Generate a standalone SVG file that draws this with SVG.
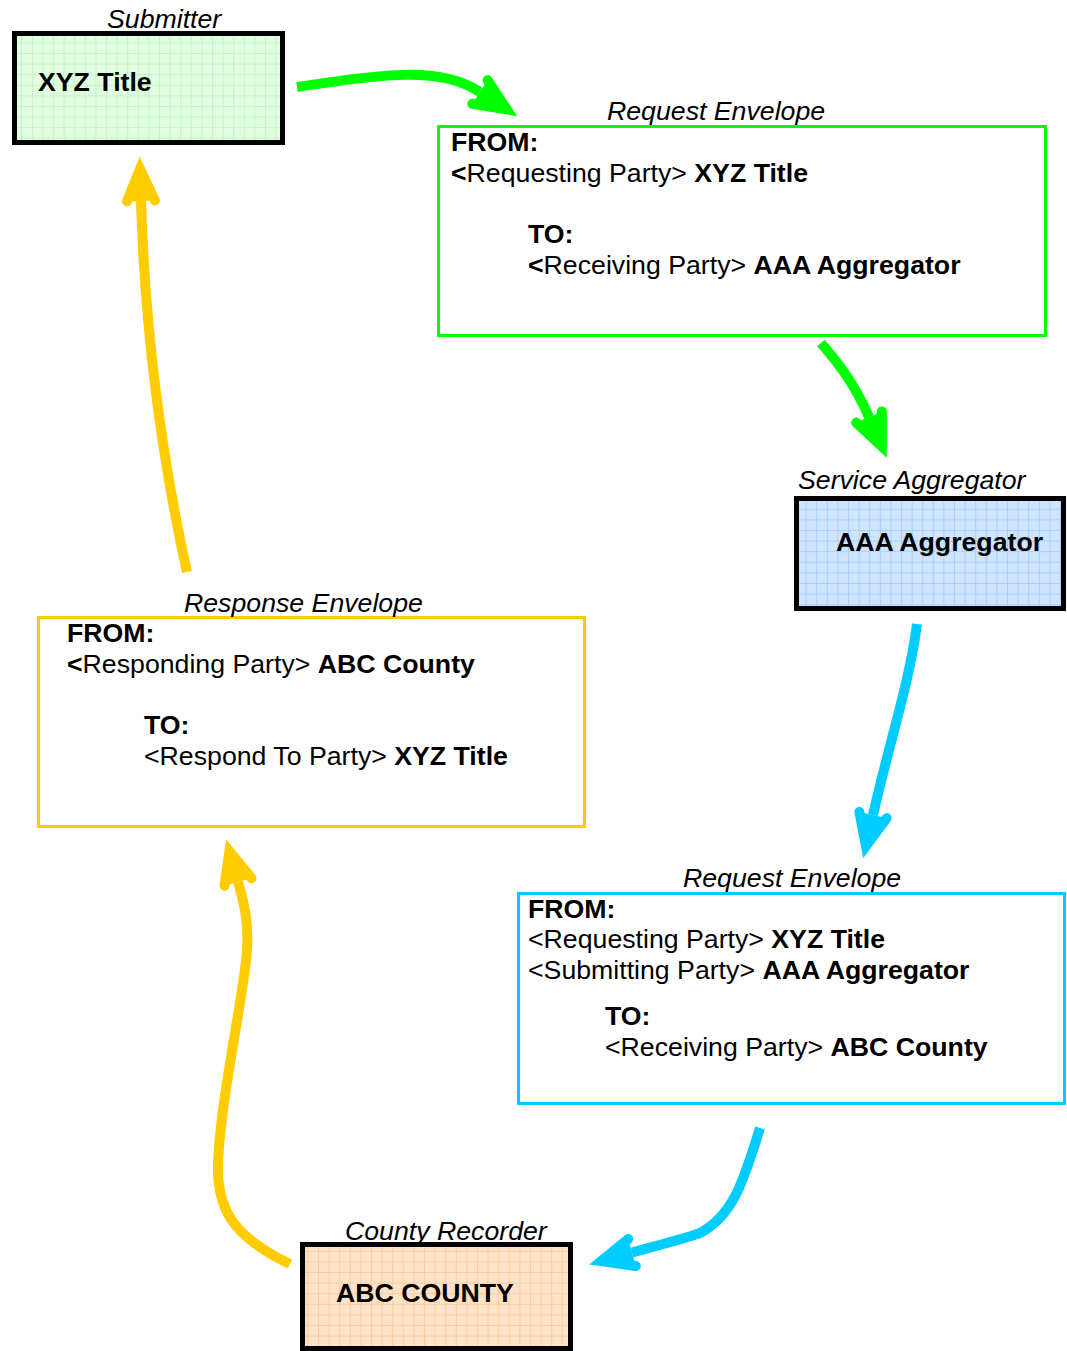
<svg xmlns="http://www.w3.org/2000/svg" width="1067" height="1351" viewBox="0 0 1067 1351">
<style>
text{font-family:"Liberation Sans",Arial,sans-serif;font-size:26.7px;fill:#000}
.cap{font-style:italic}
.b{font-weight:bold}
.node{stroke:#000;stroke-width:5}
.env{fill:#fff;stroke-width:3}
.conn{fill:none;stroke-width:10;stroke-linecap:butt}
</style>
<defs>
<pattern id="gG" width="10.6" height="10.6" patternUnits="userSpaceOnUse">
<rect width="10.6" height="10.6" fill="#e0ffe0"/>
<path d="M0,0.5H10.6M0.5,0V10.6" stroke="#c6f2c6" stroke-width="1" fill="none"/>
</pattern>
<pattern id="gB" width="10.6" height="10.6" patternUnits="userSpaceOnUse">
<rect width="10.6" height="10.6" fill="#cfe4ff"/>
<path d="M0,0.5H10.6M0.5,0V10.6" stroke="#a9d0ff" stroke-width="1" fill="none"/>
</pattern>
<pattern id="gO" width="10.6" height="10.6" patternUnits="userSpaceOnUse">
<rect width="10.6" height="10.6" fill="#fee3c8"/>
<path d="M0,0.5H10.6M0.5,0V10.6" stroke="#fbcc9c" stroke-width="1" fill="none"/>
</pattern>
<marker id="hG" markerUnits="userSpaceOnUse" orient="auto" refX="0" refY="0" markerWidth="80" markerHeight="80" overflow="visible">
<path d="M0,-14 L32,0 L0,14" fill="#00ff00" stroke="#00ff00" stroke-width="10" stroke-linecap="round" stroke-linejoin="miter" stroke-miterlimit="10"/>
</marker>
<marker id="hB" markerUnits="userSpaceOnUse" orient="auto" refX="0" refY="0" markerWidth="80" markerHeight="80" overflow="visible">
<path d="M0,-14 L32,0 L0,14" fill="#00ccff" stroke="#00ccff" stroke-width="10" stroke-linecap="round" stroke-linejoin="miter" stroke-miterlimit="10"/>
</marker>
<marker id="hY" markerUnits="userSpaceOnUse" orient="auto" refX="0" refY="0" markerWidth="80" markerHeight="80" overflow="visible">
<path d="M0,-14 L32,0 L0,14" fill="#ffcc00" stroke="#ffcc00" stroke-width="10" stroke-linecap="round" stroke-linejoin="miter" stroke-miterlimit="10"/>
</marker>
</defs>
<rect width="1067" height="1351" fill="#fff"/>

<g id="connectors">
<path class="conn" stroke="#00ff00" marker-end="url(#hG)" d="M297,87 C385,74 440,66 480,92"/>
<path class="conn" stroke="#00ff00" marker-end="url(#hG)" d="M821,343 C840,365 855,385 869,417"/>
<path class="conn" stroke="#00ccff" marker-end="url(#hB)" d="M917,624 C910,680 890,740 873,815"/>
<path class="conn" stroke="#00ccff" marker-end="url(#hB)" d="M760,1128 C745,1175 735,1215 700,1233 C680,1240 655,1246 632,1252.5"/>
<path class="conn" stroke="#ffcc00" marker-end="url(#hY)" d="M290,1264 C240,1240 218,1215 218,1170 C218,1110 245,990 247,950 C249,920 243,900 238,882"/>
<path class="conn" stroke="#ffcc00" marker-end="url(#hY)" d="M187,572 C160,450 145,330 141,201"/>
</g>

<g id="submitter">
<rect class="node" x="14.5" y="33.5" width="268" height="109" fill="url(#gG)"/>
<text class="cap" x="107" y="28">Submitter</text>
<text class="b" x="38" y="91">XYZ Title</text>
</g>

<g id="request-envelope-1">
<rect class="env" x="438.5" y="126.5" width="607" height="209" stroke="#00ff00"/>
<text class="cap" x="607" y="120">Request Envelope</text>
<text class="b" x="451" y="151">FROM:</text>
<text x="451" y="182"><tspan class="b">&lt;</tspan>Requesting Party&gt; <tspan class="b">XYZ Title</tspan></text>
<text class="b" x="528" y="243">TO:</text>
<text x="528" y="274"><tspan class="b">&lt;</tspan>Receiving Party&gt; <tspan class="b">AAA Aggregator</tspan></text>
</g>

<g id="service-aggregator">
<rect class="node" x="796.5" y="498.5" width="267" height="110" fill="url(#gB)"/>
<text class="cap" x="798" y="489">Service Aggregator</text>
<text class="b" x="836" y="551">AAA Aggregator</text>
</g>

<g id="request-envelope-2">
<rect class="env" x="518.5" y="893.5" width="546" height="210" stroke="#00ccff"/>
<text class="cap" x="683" y="887">Request Envelope</text>
<text class="b" x="528" y="918">FROM:</text>
<text x="528" y="948">&lt;Requesting Party&gt; <tspan class="b">XYZ Title</tspan></text>
<text x="528" y="979">&lt;Submitting Party&gt; <tspan class="b">AAA Aggregator</tspan></text>
<text class="b" x="605" y="1025">TO:</text>
<text x="605" y="1056">&lt;Receiving Party&gt; <tspan class="b">ABC County</tspan></text>
</g>

<g id="county-recorder">
<rect class="node" x="302.5" y="1244.5" width="268" height="104" fill="url(#gO)"/>
<text class="cap" x="345" y="1240">County Recorder</text>
<text class="b" x="336" y="1302">ABC COUNTY</text>
</g>

<g id="response-envelope">
<rect class="env" x="38.5" y="617.5" width="546" height="209" stroke="#ffcc00"/>
<text class="cap" x="184" y="612">Response Envelope</text>
<text class="b" x="67" y="642">FROM:</text>
<text x="67" y="673"><tspan class="b">&lt;</tspan>Responding Party&gt; <tspan class="b">ABC County</tspan></text>
<text class="b" x="144" y="734">TO:</text>
<text x="144" y="765">&lt;Respond To Party&gt; <tspan class="b">XYZ Title</tspan></text>
</g>
</svg>
